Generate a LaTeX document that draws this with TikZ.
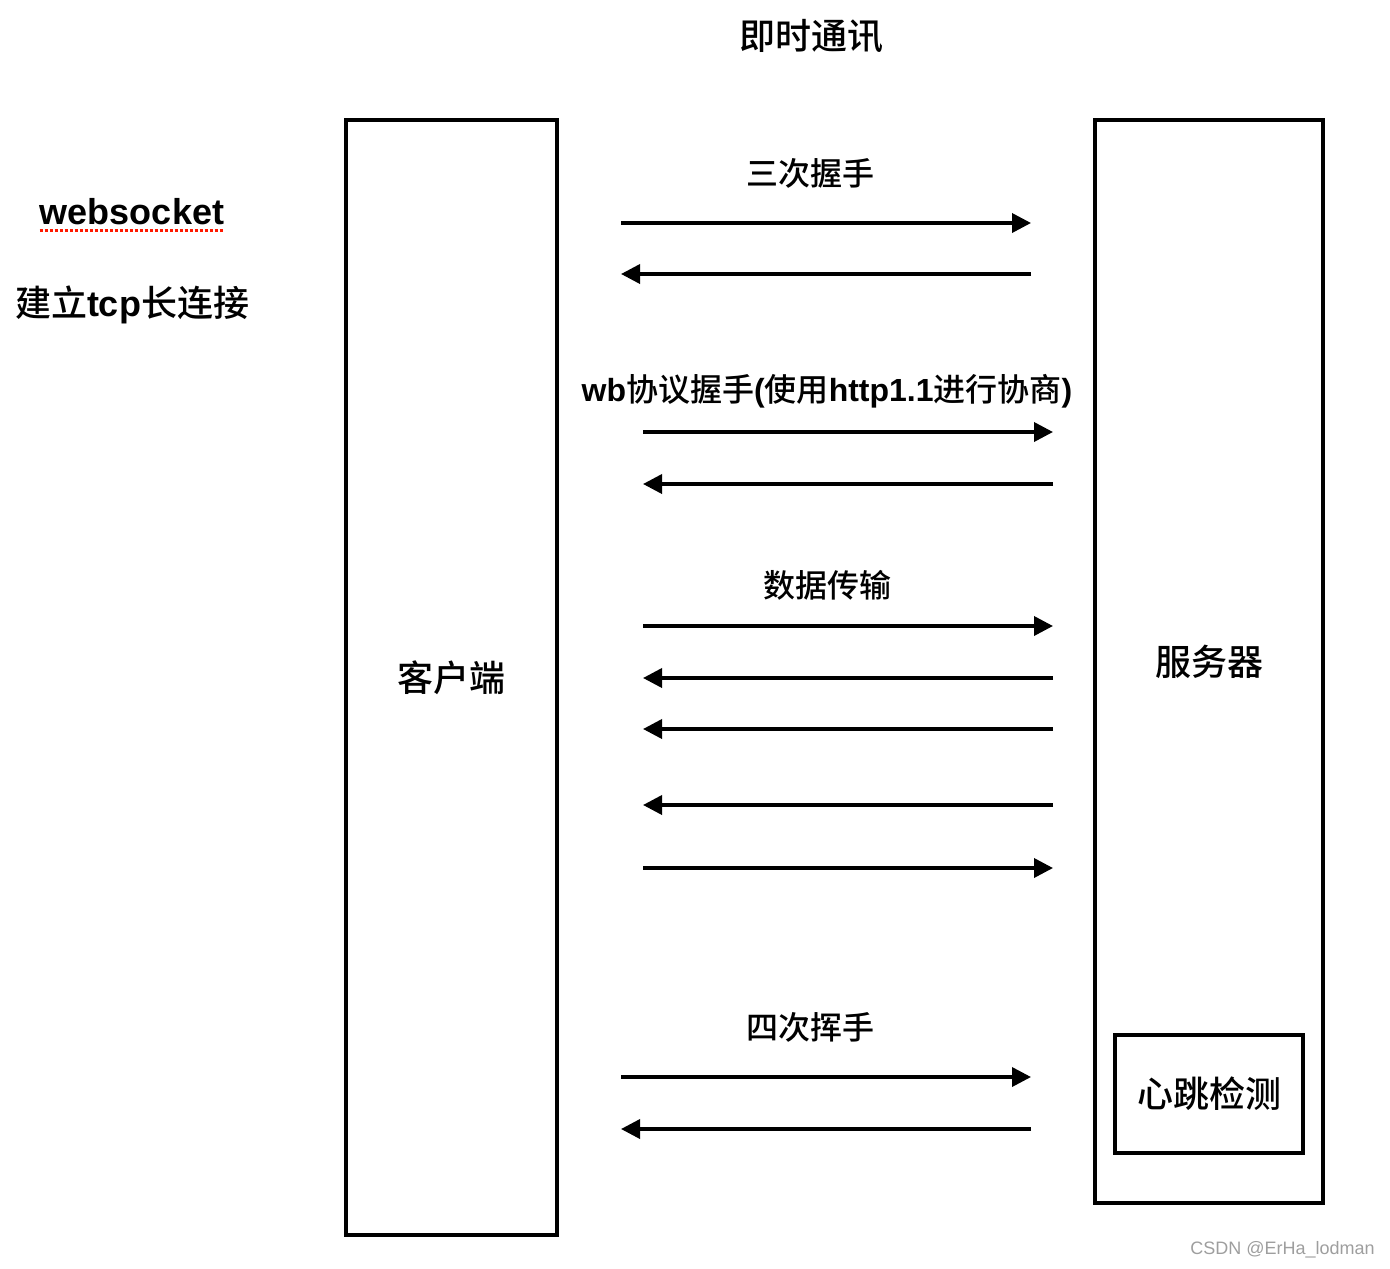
\documentclass[tikz,border=0pt]{standalone}
\usepackage{fontspec}
\setmainfont{Liberation Sans}
\newfontfamily\cjk{Noto Sans CJK SC}[BoldFont={Noto Sans CJK SC Medium}]
\usetikzlibrary{arrows.meta}
\begin{document}
\begin{tikzpicture}[x=0.5pt,y=-0.5pt,
  big/.style={font=\bfseries\fontsize{18}{21}\selectfont,inner sep=0},
  lbl/.style={font=\bfseries\fontsize{16}{19}\selectfont,inner sep=0},
  box/.style={draw,line width=1.9pt,inner sep=0,font=\cjk\bfseries\fontsize{18}{21}\selectfont},
  msg/.style={line width=1.8pt,-{Triangle[length=9.5pt,width=9.5pt]}}]
\useasboundingbox (0,0) rectangle (1390,1268);

\node[big] (title) at (811,36) {\cjk 即时通讯};
\node[big] (ws) at (132,212) {websocket};
\draw[red!80!orange,line width=1.2pt,dash pattern=on 1.5pt off 1pt]
  ([yshift=-2.5pt]ws.south west) -- ([yshift=-2.5pt]ws.south east);
\node[big] (tcp) at (132,305) {{\cjk 建立}tcp{\cjk 长连接}};

% client and server
\node[box,minimum width=105.5pt,minimum height=557.5pt] (client) at (451.5,677.5) {客户端};
\node[box,minimum width=114pt,minimum height=541.5pt] (server) at (1209,661.5) {服务器};
\node[box,minimum width=94pt,minimum height=59pt] (beat) at (1209,1094) {心跳检测};

% messages
\foreach \n/\xa/\xb/\y in {1/621/1031/223, 2/1031/621/274,
    3/643/1053/432, 4/1053/643/484,
    5/643/1053/626, 6/1053/643/678, 7/1053/643/729, 8/1053/643/805, 9/643/1053/868,
    10/621/1031/1077, 11/1031/621/1129} {
  \coordinate (s\n) at (\xa,\y);
  \coordinate (e\n) at (\xb,\y);
  \draw[msg] (s\n) -- (e\n);
}

\node[lbl] (shake) at (810,173) {\cjk 三次握手};
\node[lbl] (wb) at (827,391) {wb{\cjk 协议握手}({\cjk 使用}http1.1{\cjk 进行协商})};
\node[lbl] (data) at (827,585) {\cjk 数据传输};
\node[lbl] (wave) at (810,1027) {\cjk 四次挥手};

\node[anchor=east,inner sep=0,text=black!38,font=\fontsize{9}{11}\selectfont] (mark) at (1375,1250) {CSDN @ErHa\_lodman};
\end{tikzpicture}
\end{document}
